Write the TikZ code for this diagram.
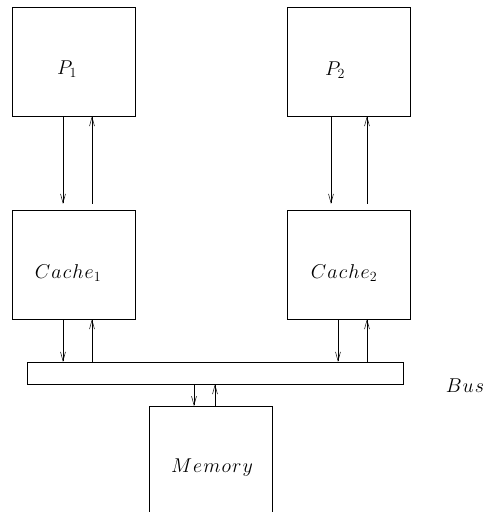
\RequirePackage{fix-cm}
\documentclass[tikz,border=0pt]{standalone}
\usetikzlibrary{arrows.meta}

\newcommand{\lgap}{\mkern1mu}

\begin{document}
\begin{tikzpicture}[x=1pt,y=-1pt]
\tikzstyle{every node} = [inner sep=0pt]
\tikzstyle{unit} = [draw, minimum width=123pt, minimum height=109pt]
\tikzstyle{lbl} = [font=\fontsize{20}{23}\selectfont]
\tikzstyle{link} = [-{Straight Barb[length=9pt,width=5pt]}, line width=0.5pt]
\useasboundingbox (0,0) rectangle (486,512);
\clip (0,0) rectangle (486,512);

\node [unit] (p1) at (73.5, 61.5) {};
\node [unit] (p2) at (349, 61.5) {};
\node [unit] (c1) at (73.5, 264.5) {};
\node [unit] (c2) at (349, 264.5) {};
\node [draw, minimum width=376pt, minimum height=22pt] (bus) at (215, 373) {};
\node [unit, anchor=north, minimum height=130pt] (mem) at (210.5, 406) {};

\node [lbl] (p1l) at (67, 69) {$P_1$};
\node [lbl] (p2l) at (335, 70) {$P_2$};
\node [lbl] (c1l) at (68, 273) {$C\lgap a\lgap c\lgap h\lgap e_1$};
\node [lbl] (c2l) at (344, 273) {$C\lgap a\lgap c\lgap h\lgap e_2$};
\node [lbl] (busl) at (465, 386) {$B\lgap u\lgap s$};
\node [lbl] (meml) at (212, 468) {$M\lgap e\lgap m\lgap o\lgap r\lgap y$};

\draw [link, shorten >=6pt] ([xshift=-10.5pt]p1.south) to ([xshift=-10.5pt]c1.north);
\draw [link, shorten <=6pt] ([xshift=18.5pt]c1.north) to ([xshift=18.5pt]p1.south);
\draw [link, shorten >=6pt] ([xshift=-18pt]p2.south) to ([xshift=-18pt]c2.north);
\draw [link, shorten <=6pt] ([xshift=18pt]c2.north) to ([xshift=18pt]p2.south);

\draw [link] ([xshift=-10.5pt]c1.south) to ([xshift=-10.5pt]c1.south |- bus.north);
\draw [link] ([xshift=18.5pt]c1.south |- bus.north) to ([xshift=18.5pt]c1.south);
\draw [link] ([xshift=-11pt]c2.south) to ([xshift=-11pt]c2.south |- bus.north);
\draw [link] ([xshift=18pt]c2.south |- bus.north) to ([xshift=18pt]c2.south);

\draw [link] ([xshift=-16.5pt]mem.north |- bus.south) to ([xshift=-16.5pt]mem.north);
\draw [link] ([xshift=4.5pt]mem.north) to ([xshift=4.5pt]mem.north |- bus.south);

\end{tikzpicture}
\end{document}
